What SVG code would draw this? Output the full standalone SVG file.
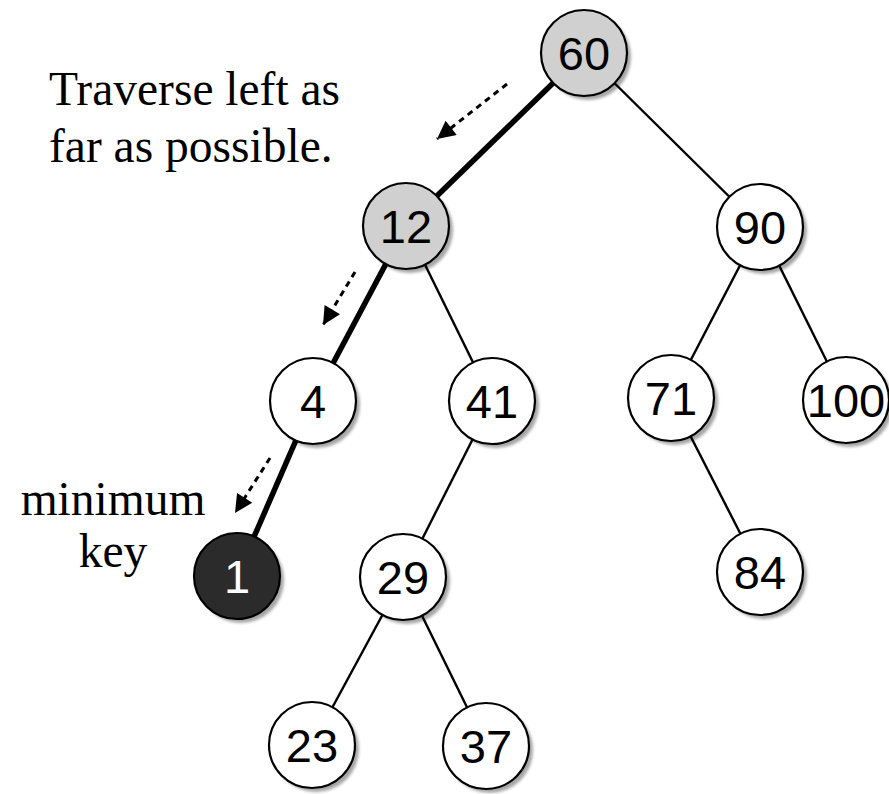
<svg xmlns="http://www.w3.org/2000/svg" width="889" height="794" viewBox="0 0 889 794">
<defs>
<style>
.edge{stroke:#000;stroke-width:2.4;fill:none}
.thick{stroke:#000;stroke-width:5.5;fill:none}
.node{stroke:#000;stroke-width:2.2}
.shadow{fill:#000;opacity:0.35;filter:url(#blur)}
.lbl{font-family:"Liberation Sans",Arial,sans-serif;font-size:47px;text-anchor:middle;fill:#000}
.note{font-family:"Liberation Serif","Times New Roman",serif;font-size:47.5px;fill:#000}
.dash{stroke:#000;stroke-width:3;stroke-dasharray:6 5;fill:none;marker-end:url(#ah)}
</style>
<filter id="blur" x="-20%" y="-20%" width="140%" height="140%"><feGaussianBlur stdDeviation="1.5"/></filter>
<marker id="ah" markerUnits="userSpaceOnUse" markerWidth="22" markerHeight="22" viewBox="0 0 22 22" refX="20" refY="11" orient="auto">
<path d="M2,2 L20,11 L2,20 Z" fill="#000"/>
</marker>
</defs>
<rect width="889" height="794" fill="#fff"/>
<g id="connectors">
<line class="thick" x1="584" y1="53" x2="406" y2="226"/>
<line class="thick" x1="406" y1="226" x2="313" y2="401"/>
<line class="thick" x1="313" y1="401" x2="237" y2="576"/>
<line class="edge" x1="584" y1="53" x2="760" y2="227"/>
<line class="edge" x1="406" y1="226" x2="492" y2="401"/>
<line class="edge" x1="760" y1="227" x2="671" y2="398"/>
<line class="edge" x1="760" y1="227" x2="846" y2="400"/>
<line class="edge" x1="492" y1="401" x2="403" y2="577"/>
<line class="edge" x1="671" y1="398" x2="760" y2="572"/>
<line class="edge" x1="403" y1="577" x2="312" y2="745"/>
<line class="edge" x1="403" y1="577" x2="486" y2="746"/>
<line class="dash" x1="507" y1="84" x2="437" y2="139"/>
<line class="dash" x1="355" y1="272" x2="323" y2="325"/>
<line class="dash" x1="270" y1="458" x2="235" y2="513"/>
</g>
<g id="n60"><circle class="shadow" cx="588" cy="57" r="43"/><circle class="node" cx="584" cy="53" r="43" fill="#d0d0d0"/><text class="lbl" x="584" y="70">60</text></g>
<g id="n12"><circle class="shadow" cx="410" cy="230" r="43"/><circle class="node" cx="406" cy="226" r="43" fill="#d0d0d0"/><text class="lbl" x="406" y="243">12</text></g>
<g id="n90"><circle class="shadow" cx="764" cy="231" r="43"/><circle class="node" cx="760" cy="227" r="43" fill="#fff"/><text class="lbl" x="760" y="244">90</text></g>
<g id="n4"><circle class="shadow" cx="317" cy="405" r="43"/><circle class="node" cx="313" cy="401" r="43" fill="#fff"/><text class="lbl" x="313" y="418">4</text></g>
<g id="n41"><circle class="shadow" cx="496" cy="405" r="43"/><circle class="node" cx="492" cy="401" r="43" fill="#fff"/><text class="lbl" x="492" y="418">41</text></g>
<g id="n71"><circle class="shadow" cx="675" cy="402" r="43"/><circle class="node" cx="671" cy="398" r="43" fill="#fff"/><text class="lbl" x="671" y="415">71</text></g>
<g id="n100"><circle class="shadow" cx="850" cy="404" r="43"/><circle class="node" cx="846" cy="400" r="43" fill="#fff"/><text class="lbl" x="846" y="417">100</text></g>
<g id="n1"><circle class="shadow" cx="241" cy="580" r="43"/><circle class="node" cx="237" cy="576" r="43" fill="#2b2b2b"/><text class="lbl" x="237" y="593" style="fill:#fff">1</text></g>
<g id="n29"><circle class="shadow" cx="407" cy="581" r="43"/><circle class="node" cx="403" cy="577" r="43" fill="#fff"/><text class="lbl" x="403" y="594">29</text></g>
<g id="n84"><circle class="shadow" cx="764" cy="576" r="43"/><circle class="node" cx="760" cy="572" r="43" fill="#fff"/><text class="lbl" x="760" y="589">84</text></g>
<g id="n23"><circle class="shadow" cx="316" cy="749" r="43"/><circle class="node" cx="312" cy="745" r="43" fill="#fff"/><text class="lbl" x="312" y="762">23</text></g>
<g id="n37"><circle class="shadow" cx="490" cy="750" r="43"/><circle class="node" cx="486" cy="746" r="43" fill="#fff"/><text class="lbl" x="486" y="763">37</text></g>
<g id="notes">
<text class="note" x="49" y="105">Traverse left as</text>
<text class="note" x="49" y="162">far as possible.</text>
<text class="note" x="113" y="515" text-anchor="middle">minimum</text>
<text class="note" x="113" y="567" text-anchor="middle">key</text>
</g>
</svg>
